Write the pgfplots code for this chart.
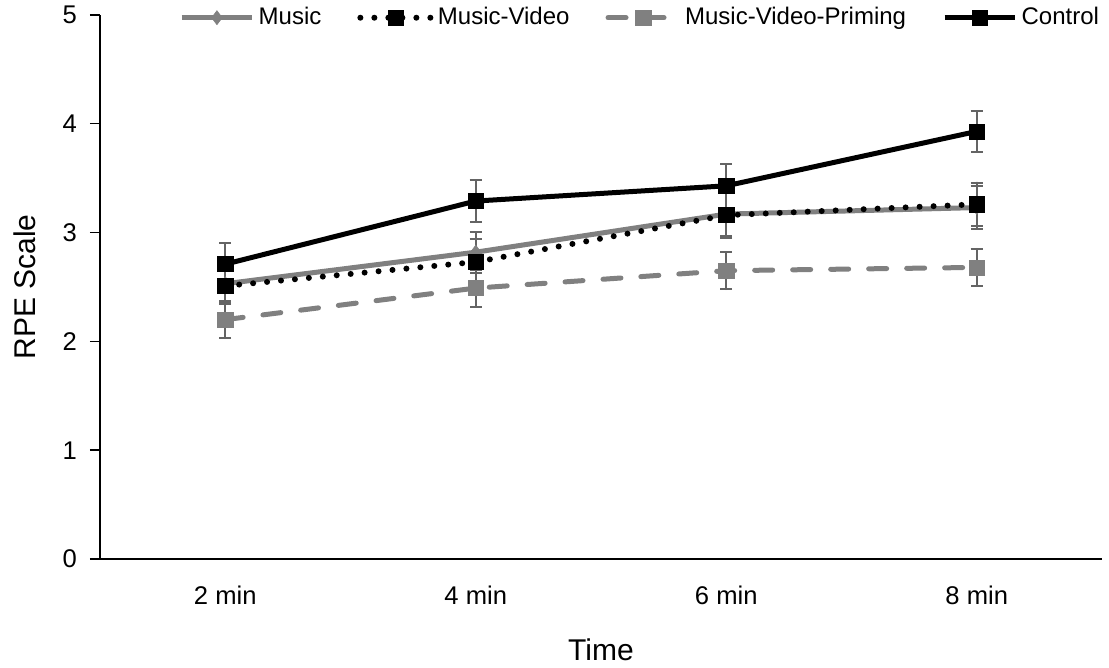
\documentclass[border=0pt]{standalone}
\usepackage{pgfplots}
\pgfplotsset{compat=1.18}
\usepackage{fontspec}
\setmainfont{Liberation Sans}
\definecolor{mgray}{RGB}{128,128,128}
\definecolor{egray}{RGB}{100,100,100}
\begin{document}
\begin{tikzpicture}
\path[use as bounding box] (-50pt,-54.5pt) rectangle (504.5pt,279.5pt);
\begin{axis}[
  scale only axis,
  width=501pt, height=272pt,
  xmin=-0.5, xmax=3.5, ymin=0, ymax=5,
  axis x line*=bottom, axis y line*=left,
  axis line style={black, line width=0.7pt},
  xtick={0,1,2,3},
  xticklabels={2 min,4 min,6 min,8 min},
  x tick style={draw=none},
  extra x ticks={-0.5,0.5,1.5,2.5,3.5},
  extra x tick labels={},
  extra x tick style={tick style={draw=black, line width=0.7pt}, major tick length=5pt, tick align=outside},
  ytick={0,1,2,3,4,5},
  y tick style={draw=black, line width=0.7pt},
  major tick length=5pt, tick align=outside,
  tick label style={font=\fontsize{12.8}{15}\selectfont},
  /pgf/number format/assume math mode=true,
  xticklabel style={yshift=-5pt},
  yticklabel style={xshift=-3pt},
  xlabel={Time}, ylabel={RPE Scale},
  label style={font=\fontsize{15}{18}\selectfont},
  xlabel style={at={(axis description cs:0.5,-0.167)}, anchor=center},
  ylabel style={at={(axis description cs:-0.075,0.5)}, anchor=center},
  legend columns=4,
  legend style={draw=none, fill=none, at={(axis description cs:0.54,0.995)}, anchor=center,
    font=\fontsize{12}{14}\selectfont, /tikz/every even column/.append style={column sep=16pt}},
  legend image code/.code={\draw[mark repeat=2, mark phase=2] plot coordinates {(0cm,0cm) (0.62cm,0cm) (1.24cm,0cm)};},
  error bars/y dir=both, error bars/y explicit,
  error bars/error bar style={egray, line width=1pt, solid},
  error bars/error mark options={egray, rotate=90, mark size=3pt, line width=1pt, solid},
]
\addplot[mgray, line width=2.5pt, mark=diamond*, mark size=3.5pt, mark options={solid, line width=0.3pt, fill=mgray, draw=mgray}]
  coordinates {(0,2.53) +- (0,0.18) (1,2.82) +- (0,0.19) (2,3.17) +- (0,0.20) (3,3.23) +- (0,0.20)};
\addlegendentry{Music}
\addplot[black, line width=3pt, line cap=round, dash pattern=on 0pt off 7pt, mark=square*, mark size=3.8pt, mark options={solid, line width=0.3pt, fill=black}]
  coordinates {(0,2.51) +- (0,0.17) (1,2.73) +- (0,0.21) (2,3.16) +- (0,0.21) (3,3.26) +- (0,0.20)};
\addlegendentry{Music-Video}
\addplot[mgray, line width=2.5pt, line cap=round, dash pattern=on 9pt off 10pt, mark=square*, mark size=3.8pt, mark options={solid, line width=0.3pt, fill=mgray, draw=mgray}]
  coordinates {(0,2.20) +- (0,0.17) (1,2.49) +- (0,0.17) (2,2.65) +- (0,0.17) (3,2.68) +- (0,0.17)};
\addlegendentry{Music-Video-Priming}
\addplot[black, line width=2.5pt, mark=square*, mark size=3.8pt, mark options={solid, line width=0.3pt, fill=black}]
  coordinates {(0,2.71) +- (0,0.19) (1,3.29) +- (0,0.19) (2,3.43) +- (0,0.20) (3,3.93) +- (0,0.19)};
\addlegendentry{Control}
\end{axis}
\end{tikzpicture}
\end{document}
